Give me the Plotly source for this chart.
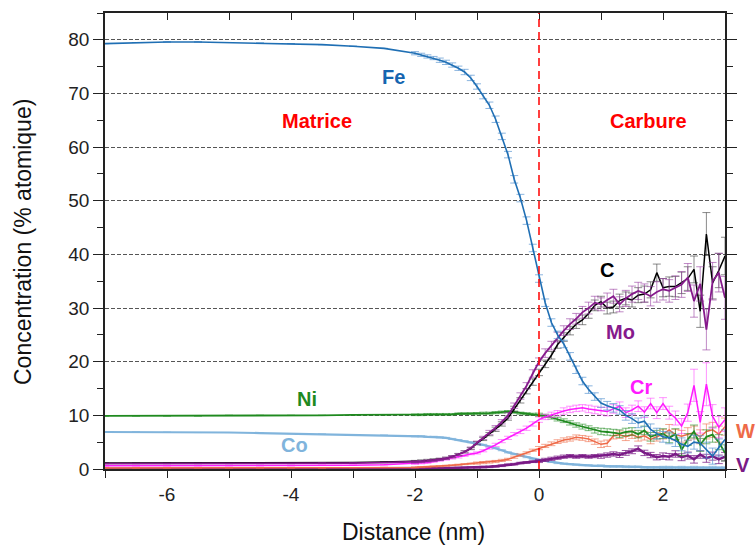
import plotly.graph_objects as go

# ---------------- data ----------------
X = [-7.0, -6.5, -6.0, -5.5, -5.0, -4.5, -4.0, -3.5, -3.0, -2.5,
     -2.0, -1.9, -1.8, -1.7, -1.6, -1.5, -1.4, -1.3, -1.2, -1.1,
     -1.0, -0.9, -0.8, -0.7, -0.6, -0.5, -0.4, -0.3, -0.2, -0.1,
     0.0, 0.1, 0.2, 0.3, 0.4, 0.5, 0.6, 0.7, 0.8, 0.9,
     1.0, 1.1, 1.2, 1.3, 1.4, 1.5, 1.6, 1.7, 1.8, 1.9,
     2.0, 2.1, 2.2, 2.3, 2.4, 2.5, 2.6, 2.7, 2.8, 2.9, 3.0]

FE = [79.3, 79.5, 79.6, 79.6, 79.5, 79.4, 79.3, 79.1, 78.8, 78.4,
      77.5, 77.2, 76.9, 76.6, 76.2, 75.8, 75.3, 74.7, 74.0, 72.9,
      71.3, 69.5, 67.8, 65.2, 62.0, 58.6, 54.0, 50.5, 46.3, 41.2,
      35.5, 31.0, 27.3, 25.0, 23.3, 21.0, 18.5, 16.4, 14.8, 13.5,
      12.3, 11.8, 11.4, 11.0, 10.0, 9.4, 8.6, 8.9, 7.4, 6.6,
      6.0, 5.8, 5.3, 4.6, 4.2, 5.0, 4.8, 3.5, 2.4, 4.0, 5.5]
FE_ERR = [0, 0, 0, 0, 0, 0, 0, 0, 0, 0,
          0.3, 0.3, 0.3, 0.3, 0.4, 0.4, 0.4, 0.4, 0.5, 0.5,
          0.5, 0.5, 0.6, 0.6, 0.6, 0.6, 0.7, 0.7, 0.7, 0.7,
          0.7, 0.7, 0.7, 0.7, 0.7, 0.7, 0.7, 0.7, 0.7, 0.7,
          0.8, 0.8, 0.8, 0.8, 0.9, 0.9, 0.9, 1.0, 1.0, 1.0,
          1.0, 1.1, 1.1, 1.2, 1.2, 1.3, 1.4, 1.5, 1.5, 1.6, 1.8]

C = [1.1, 1.1, 1.1, 1.1, 1.1, 1.1, 1.1, 1.2, 1.2, 1.3,
     1.4, 1.5, 1.6, 1.7, 1.8, 2.0, 2.3, 2.7, 3.2, 3.8,
     4.8, 5.6, 6.5, 7.4, 8.4, 9.5, 11.2, 12.8, 14.5, 16.2,
     18.0, 19.6, 21.2, 23.2, 24.6, 25.8, 27.0, 27.8, 29.0, 30.5,
     31.2, 30.0, 30.2, 31.4, 31.8, 31.5, 32.4, 32.6, 33.4, 36.6,
     33.8, 34.0, 34.0, 34.7, 35.5, 37.2, 29.4, 43.8, 34.7, 37.0, 39.7]
C_ERR = [0, 0, 0, 0, 0, 0, 0, 0, 0, 0,
         0.2, 0.2, 0.2, 0.2, 0.2, 0.2, 0.2, 0.2, 0.2, 0.2,
         0.3, 0.3, 0.3, 0.4, 0.4, 0.4, 0.5, 0.5, 0.5, 0.6,
         0.6, 0.7, 0.7, 0.7, 0.8, 0.8, 0.8, 0.9, 0.9, 1.0,
         1.0, 1.1, 1.1, 1.2, 1.2, 1.3, 1.4, 1.5, 1.5, 1.6,
         1.7, 1.8, 1.9, 2.0, 2.2, 2.5, 3.0, 4.0, 3.0, 3.2, 3.5]

MO = [1.0, 1.0, 1.0, 1.0, 1.0, 1.0, 1.0, 1.1, 1.1, 1.2,
      1.3, 1.4, 1.5, 1.6, 1.8, 2.0, 2.3, 2.7, 3.2, 3.9,
      4.9, 5.8, 6.8, 7.7, 8.8, 10.0, 11.8, 13.6, 15.5, 17.8,
      20.0, 21.6, 23.0, 24.6, 25.8, 27.0, 28.0, 29.2, 30.0, 31.0,
      30.7, 31.5, 32.2, 30.7, 31.8, 32.6, 33.2, 32.8, 32.2, 33.0,
      33.5, 33.2, 33.8, 34.4, 35.7, 31.3, 34.5, 26.0, 35.0, 36.6, 31.9]
MO_ERR = [0, 0, 0, 0, 0, 0, 0, 0, 0, 0,
          0.2, 0.2, 0.2, 0.2, 0.2, 0.2, 0.2, 0.2, 0.2, 0.2,
          0.3, 0.3, 0.4, 0.4, 0.4, 0.5, 0.5, 0.6, 0.6, 0.7,
          0.7, 0.8, 0.8, 0.9, 0.9, 1.0, 1.0, 1.1, 1.1, 1.2,
          1.2, 1.3, 1.3, 1.4, 1.5, 1.5, 1.6, 1.7, 1.8, 1.9,
          2.0, 2.1, 2.2, 2.4, 2.6, 3.0, 3.2, 3.8, 3.5, 3.6, 4.0]

CR = [0.6, 0.6, 0.6, 0.6, 0.6, 0.6, 0.6, 0.7, 0.7, 0.8,
      1.0, 1.1, 1.2, 1.4, 1.6, 1.8, 2.0, 2.2, 2.5, 2.8,
      3.0, 3.4, 3.9, 4.5, 5.2, 5.8, 6.5, 7.0, 7.6, 8.4,
      9.2, 9.7, 10.1, 10.4, 10.8, 11.1, 11.3, 11.4, 11.2, 11.0,
      10.8, 10.7, 11.2, 11.7, 10.5, 11.0, 11.7, 10.6, 12.2, 10.5,
      12.2, 10.5, 9.5, 8.0, 10.5, 15.6, 8.7, 15.8, 9.8, 7.8, 9.2]
CR_ERR = [0, 0, 0, 0, 0, 0, 0, 0, 0, 0,
          0.15, 0.15, 0.15, 0.15, 0.15, 0.15, 0.15, 0.15, 0.15, 0.15,
          0.2, 0.2, 0.2, 0.3, 0.3, 0.3, 0.3, 0.4, 0.4, 0.4,
          0.5, 0.5, 0.5, 0.5, 0.6, 0.6, 0.6, 0.6, 0.7, 0.7,
          0.7, 0.8, 0.8, 0.8, 0.9, 0.9, 1.0, 1.0, 1.0, 1.1,
          1.1, 1.2, 1.3, 1.4, 1.6, 3.0, 2.0, 4.0, 2.2, 2.0, 2.2]

NI = [9.9, 9.9, 9.9, 9.9, 10.0, 10.0, 10.0, 10.0, 10.1, 10.1,
      10.1, 10.1, 10.2, 10.2, 10.2, 10.2, 10.2, 10.3, 10.3, 10.3,
      10.3, 10.4, 10.4, 10.5, 10.6, 10.7, 10.6, 10.4, 10.3, 10.2,
      10.1, 9.9, 9.6, 9.3, 9.0, 8.6, 8.2, 7.9, 7.6, 7.2,
      7.0, 6.9, 6.8, 6.6, 6.9, 7.0, 6.5, 7.2, 6.0, 6.4,
      6.6, 5.8, 6.5, 3.6, 5.5, 7.0, 4.5, 6.0, 6.4, 5.0, 3.0]
NI_ERR = [0, 0, 0, 0, 0, 0, 0, 0, 0, 0,
          0.15, 0.15, 0.15, 0.15, 0.15, 0.15, 0.15, 0.15, 0.15, 0.15,
          0.2, 0.2, 0.2, 0.2, 0.2, 0.2, 0.2, 0.2, 0.2, 0.2,
          0.3, 0.3, 0.3, 0.35, 0.35, 0.4, 0.4, 0.45, 0.45, 0.5,
          0.6, 0.6, 0.6, 0.7, 0.7, 0.7, 0.7, 0.8, 0.8, 0.8,
          0.9, 0.9, 1.0, 1.1, 1.1, 1.2, 1.2, 1.3, 1.4, 1.4, 1.5]

CO = [6.9, 6.9, 6.85, 6.8, 6.8, 6.7, 6.6, 6.5, 6.4, 6.3,
      6.1, 6.1, 6.0, 6.0, 5.9, 5.8, 5.6, 5.4, 5.2, 5.0,
      4.7, 4.5, 4.2, 3.9, 3.5, 3.1, 2.8, 2.5, 2.2, 1.9,
      1.7, 1.5, 1.3, 1.1, 1.0, 0.9, 0.8, 0.7, 0.7, 0.6,
      0.6, 0.5, 0.5, 0.5, 0.4, 0.4, 0.4, 0.3, 0.3, 0.3,
      0.3, 0.3, 0.2, 0.3, 0.2, 0.3, 0.2, 0.2, 0.3, 0.2, 0.2]
CO_ERR = [0, 0, 0, 0, 0, 0, 0, 0, 0, 0,
          0.1, 0.1, 0.1, 0.1, 0.1, 0.1, 0.1, 0.1, 0.1, 0.1,
          0.1, 0.1, 0.1, 0.1, 0.1, 0.1, 0.1, 0.1, 0.1, 0.1,
          0.1, 0.1, 0.1, 0.1, 0.1, 0.1, 0.1, 0.1, 0.1, 0.1,
          0.15, 0.15, 0.15, 0.15, 0.15, 0.15, 0.15, 0.15, 0.15, 0.15,
          0.2, 0.2, 0.2, 0.2, 0.2, 0.2, 0.2, 0.2, 0.2, 0.2, 0.2]

W = [0.2, 0.2, 0.2, 0.2, 0.2, 0.2, 0.2, 0.2, 0.25, 0.3,
     0.3, 0.35, 0.4, 0.45, 0.5, 0.6, 0.7, 0.8, 0.9, 1.0,
     1.1, 1.2, 1.3, 1.4, 1.6, 1.8, 2.2, 2.6, 3.0, 3.5,
     3.9, 4.3, 4.7, 5.1, 5.4, 5.6, 5.9, 5.8, 5.6, 5.1,
     4.6, 4.8, 6.2, 6.4, 6.0, 6.4, 5.9, 6.2, 5.5, 6.0,
     6.5, 7.3, 6.4, 6.1, 6.5, 6.8, 6.0, 7.0, 7.3, 6.5, 7.9]
W_ERR = [0, 0, 0, 0, 0, 0, 0, 0, 0, 0,
         0.1, 0.1, 0.1, 0.1, 0.1, 0.1, 0.1, 0.1, 0.1, 0.1,
         0.2, 0.2, 0.2, 0.2, 0.2, 0.2, 0.2, 0.2, 0.2, 0.2,
         0.3, 0.3, 0.35, 0.35, 0.4, 0.4, 0.45, 0.45, 0.5, 0.5,
         0.6, 0.6, 0.6, 0.7, 0.7, 0.7, 0.7, 0.8, 0.8, 0.8,
         0.9, 1.0, 1.0, 1.1, 1.2, 1.2, 1.3, 1.4, 1.4, 1.5, 1.6]

V = [0.05, 0.05, 0.05, 0.05, 0.05, 0.05, 0.05, 0.05, 0.08, 0.1,
     0.1, 0.1, 0.12, 0.14, 0.16, 0.18, 0.2, 0.22, 0.25, 0.28,
     0.3, 0.35, 0.4, 0.5, 0.6, 0.8, 0.9, 1.1, 1.2, 1.35,
     1.5, 1.7, 1.9, 2.1, 2.3, 2.4, 2.3, 2.4, 2.3, 2.4,
     2.4, 2.6, 2.8, 2.6, 3.0, 3.3, 3.8, 3.0, 2.6, 2.2,
     2.4, 2.3, 2.8, 2.2, 2.5, 1.8, 2.7, 2.0, 2.4, 1.8, 2.3]
V_ERR = [0, 0, 0, 0, 0, 0, 0, 0, 0, 0,
         0.1, 0.1, 0.1, 0.1, 0.1, 0.1, 0.1, 0.1, 0.1, 0.1,
         0.15, 0.15, 0.15, 0.15, 0.15, 0.15, 0.15, 0.15, 0.15, 0.15,
         0.3, 0.3, 0.3, 0.3, 0.3, 0.3, 0.3, 0.3, 0.3, 0.3,
         0.4, 0.4, 0.4, 0.45, 0.45, 0.45, 0.5, 0.5, 0.5, 0.5,
         0.6, 0.6, 0.6, 0.65, 0.65, 0.7, 0.7, 0.75, 0.75, 0.8, 0.8]

X_TICKS = [-7, -6, -5, -4, -3, -2, -1, 0, 1, 2, 3]
X_TICKTEXT = ["", "-6", "", "-4", "", "-2", "", "0", "", "2", ""]
Y_TICKS = [0, 10, 20, 30, 40, 50, 60, 70, 80]
Y_TICKTEXT = ["0", "10", "20", "30", "40", "50", "60", "70", "80"]
X_TITLE = "Distance (nm)"
Y_TITLE = "Concentration (% atomique)"

FONT = "Liberation Sans, Arial, sans-serif"

# series: name, values, errors, line colour, error colour, width
SERIES = [
    ("Co", CO, CO_ERR, "#80b4dc", "rgba(128,180,220,0.7)", 2.2),
    ("V", V, V_ERR, "#7a1a86", "rgba(122,26,134,0.75)", 2.5),
    ("W", W, W_ERR, "#ee6a48", "rgba(238,106,72,0.6)", 1.5),
    ("Ni", NI, NI_ERR, "#1f8a1f", "rgba(31,138,31,0.6)", 1.8),
    ("Cr", CR, CR_ERR, "#ff1aff", "rgba(255,60,255,0.55)", 1.5),
    ("C", C, C_ERR, "#000000", "rgba(60,60,60,0.6)", 1.5),
    ("Mo", MO, MO_ERR, "#861a8c", "rgba(150,60,160,0.6)", 1.8),
    ("Fe", FE, FE_ERR, "#1f6fb4", "rgba(90,150,210,0.7)", 1.6),
]

# labels inside the plot (data coordinates)
LABELS = [
    ("Fe", -2.34, 73.0, "#1565b0"),
    ("Matrice", -3.58, 64.8, "#ff0000"),
    ("Carbure", 1.77, 64.8, "#ff0000"),
    ("C", 1.1, 37.1, "#000000"),
    ("Mo", 1.32, 25.6, "#861a8c"),
    ("Cr", 1.65, 15.3, "#ff1aff"),
    ("Ni", -3.74, 13.1, "#1f8a1f"),
    ("Co", -3.95, 4.4, "#80b4dc"),
]
# labels right of the plot (paper x, data y)
SIDE_LABELS = [
    ("W", 7.0, "#ee6a48"),
    ("V", 0.8, "#7a1a86"),
]

fig = go.Figure()
for name, vals, errs, col, ecol, lw in SERIES:
    fig.add_trace(go.Scatter(
        x=X, y=vals, mode="lines", name=name,
        line=dict(color=col, width=lw),
        error_y=dict(type="data", array=errs, visible=True,
                     color=ecol, thickness=1, width=4),
        showlegend=False, cliponaxis=True,
    ))

# top axis (ticks inside)
fig.add_trace(go.Scatter(x=[X[0]], y=[0], xaxis="x2", yaxis="y",
                         mode="markers", marker=dict(opacity=0),
                         showlegend=False, hoverinfo="skip"))

for txt, x, y, col in LABELS:
    fig.add_annotation(x=x, y=y, text="<b>%s</b>" % txt, showarrow=False,
                       xanchor="center", yanchor="middle",
                       font=dict(family=FONT, size=20, color=col))
for txt, y, col in SIDE_LABELS:
    fig.add_annotation(x=1.014, xref="paper", y=y, yref="y",
                       text="<b>%s</b>" % txt, showarrow=False,
                       xanchor="left", yanchor="middle",
                       font=dict(family=FONT, size=20, color=col))

# axis titles
fig.add_annotation(x=(413 - 105) / 620, y=-(532 - 469) / 456,
                   xref="paper", yref="paper", text=X_TITLE,
                   showarrow=False, xanchor="center", yanchor="middle",
                   font=dict(family=FONT, size=23, color="#111"))
fig.add_annotation(x=(23 - 105) / 620, y=(469 - 242) / 456,
                   xref="paper", yref="paper", text=Y_TITLE, textangle=-90,
                   showarrow=False, xanchor="center", yanchor="middle",
                   font=dict(family=FONT, size=23, color="#111"))

fig.add_shape(type="line", x0=0, x1=0, y0=0, y1=1, xref="x", yref="paper",
              line=dict(color="#ff0000", width=1.5, dash="8px,5px"))

fig.update_layout(
    width=756, height=548,
    margin=dict(l=105, r=31, t=13, b=79, autoexpand=False),
    paper_bgcolor="white", plot_bgcolor="white",
    font=dict(family=FONT, size=19, color="#222"),
    xaxis=dict(range=[-7, 3], tickvals=X_TICKS, ticktext=X_TICKTEXT,
               ticks="outside", ticklen=7, tickwidth=1.2, tickcolor="#222",
               showline=True, linecolor="#222", linewidth=1.5, mirror=True,
               showgrid=False, zeroline=False, automargin=False,
               tickfont=dict(family=FONT, size=19, color="#222")),
    xaxis2=dict(range=[-7, 3], overlaying="x", side="top",
                tickvals=X_TICKS, ticks="inside", ticklen=7, tickwidth=1.2,
                tickcolor="#222", showticklabels=False, showline=False,
                showgrid=False, zeroline=False, automargin=False),
    yaxis=dict(range=[0, 85], tickvals=Y_TICKS, ticktext=Y_TICKTEXT,
               ticks="outside", ticklen=10, tickwidth=1.2, tickcolor="#222",
               minor=dict(dtick=5, tick0=0, ticks="outside", ticklen=6,
                          tickwidth=1.2, tickcolor="#222", showgrid=False),
               showline=True, linecolor="#222", linewidth=1.5, mirror="ticks",
               showgrid=True, gridcolor="#555", gridwidth=1, griddash="4px,2px",
               zeroline=False, automargin=False,
               tickfont=dict(family=FONT, size=19, color="#222")),
)

fig.write_html("out.html",
               config={"displayModeBar": False},
               post_script="document.body.style.margin='0';"
                           "document.body.style.overflow='hidden';")
